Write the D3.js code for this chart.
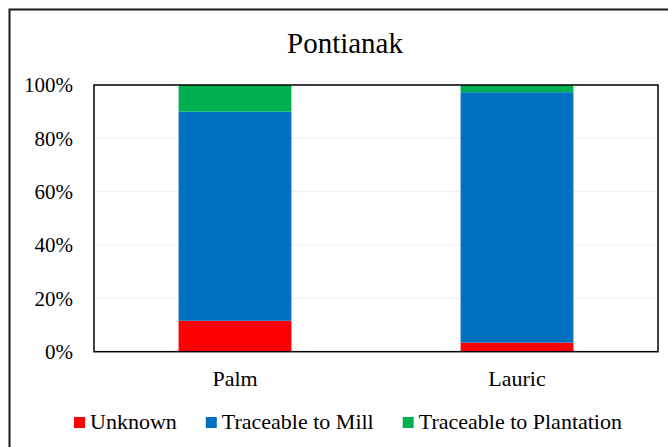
<!DOCTYPE html>
<html>
<head>
<meta charset="utf-8">
<script src="https://cdn.jsdelivr.net/npm/d3@7"></script>
<style>
  body { margin: 0; background: #fff; }
</style>
</head>
<body>
<div id="chart"></div>
<script>
// Datos (porcentajes)
var categorias = ["Palm", "Lauric"];
var series = ["Unknown", "Traceable to Mill", "Traceable to Plantation"];
var unknown = [11.6, 3.4];
var mill = [78.4, 93.9];
var plantation = [10.0, 2.7];
var colores = ["#ff0000", "#0070c0", "#00b050"];
var ticksY = [0, 20, 40, 60, 80, 100];

var fuente = "'Liberation Serif', 'Times New Roman', serif";
var width = 668, height = 447;
var margin = { top: 85, right: 10, bottom: 95.3, left: 94 };
var plotW = width - margin.left - margin.right;
var plotH = height - margin.top - margin.bottom;

var svg = d3.select("#chart").append("svg")
    .attr("width", width)
    .attr("height", height);

// Marco exterior
svg.append("rect")
    .attr("x", 9.5).attr("y", 9.5)
    .attr("width", width + 20).attr("height", height + 20)
    .attr("fill", "none")
    .attr("stroke", "#1a1a1a")
    .attr("stroke-width", 2);

// Titulo
svg.append("text")
    .attr("x", 345).attr("y", 53)
    .attr("text-anchor", "middle")
    .style("font-family", fuente)
    .style("font-size", "29px")
    .text("Pontianak");

var g = svg.append("g")
    .attr("transform", "translate(" + margin.left + "," + margin.top + ")");

var x = d3.scaleBand().domain(categorias).range([0, plotW]).paddingInner(0.6).paddingOuter(0.3);
var y = d3.scaleLinear().domain([0, 100]).range([plotH, 0]);

// Lineas de cuadricula
g.selectAll(".grid")
    .data(ticksY.filter(function(d) { return d > 0 && d < 100; }))
    .enter().append("line")
    .attr("x1", 0).attr("x2", plotW)
    .attr("y1", function(d) { return y(d); })
    .attr("y2", function(d) { return y(d); })
    .attr("stroke", "#ececec")
    .attr("stroke-width", 1);

// Apilar los datos
var filas = categorias.map(function(c, i) {
    return { cat: c, "Unknown": unknown[i], "Traceable to Mill": mill[i], "Traceable to Plantation": plantation[i] };
});
var stack = d3.stack().keys(series)(filas);

g.selectAll(".serie")
    .data(stack)
    .enter().append("g")
    .attr("fill", function(d, i) { return colores[i]; })
    .selectAll("rect")
    .data(function(d) { return d; })
    .enter().append("rect")
    .attr("x", function(d) { return x(d.data.cat); })
    .attr("width", x.bandwidth())
    .attr("y", function(d) { return y(d[1]); })
    .attr("height", function(d) { return y(d[0]) - y(d[1]); });

// Borde del area del grafico
g.append("rect")
    .attr("width", plotW).attr("height", plotH)
    .attr("fill", "none")
    .attr("stroke", "#000")
    .attr("stroke-width", 1.5);

// Eje y
var ejeY = g.append("g")
    .call(d3.axisLeft(y).tickValues(ticksY).tickSize(0).tickPadding(21)
        .tickFormat(function(d) { return d + "%"; }));
ejeY.select(".domain").remove();
ejeY.selectAll("text")
    .style("font-family", fuente)
    .style("font-size", "21px")
    .attr("fill", "#000");

// Eje x
var ejeX = g.append("g")
    .attr("transform", "translate(0," + plotH + ")")
    .call(d3.axisBottom(x).tickSize(0).tickPadding(19));
ejeX.select(".domain").remove();
ejeX.selectAll("text")
    .style("font-family", fuente)
    .style("font-size", "22px")
    .attr("fill", "#000");

// Leyenda
var leyenda = svg.append("g");
var items = leyenda.selectAll(".item")
    .data(series)
    .enter().append("g");
items.append("rect")
    .attr("width", 11).attr("height", 11)
    .attr("y", -12)
    .attr("fill", function(d, i) { return colores[i]; });
items.append("text")
    .attr("x", 16)
    .style("font-family", fuente)
    .style("font-size", "22px")
    .text(function(d) { return d; });

var pos = 0;
items.each(function() {
    var w = 16 + d3.select(this).select("text").node().getComputedTextLength();
    d3.select(this).attr("transform", "translate(" + pos + ",0)");
    pos += w + 29;
});
var total = pos - 29;
leyenda.attr("transform", "translate(" + (348 - total / 2) + ",429)");
</script>
</body>
</html>
